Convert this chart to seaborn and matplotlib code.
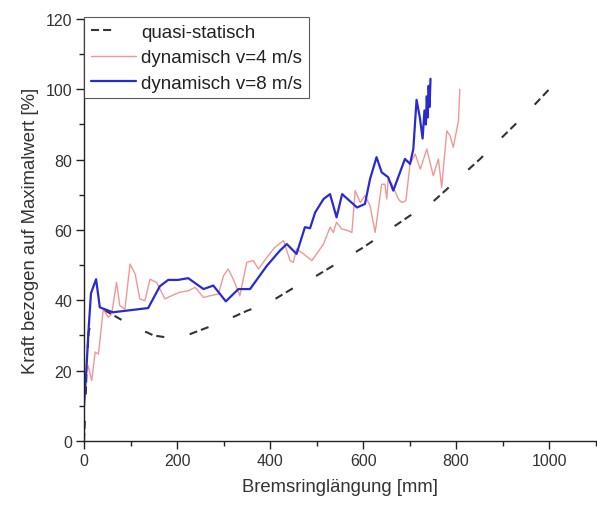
import numpy as np
import pandas as pd
import seaborn as sns
import matplotlib.pyplot as plt
from matplotlib.ticker import MultipleLocator

## Data (x in mm, y in % of max)
quasi_x = [0, 3, 6, 10, 20, 40, 60, 80, 100, 150, 200, 250, 300, 350, 400,
           450, 500, 550, 600, 650, 700, 750, 800, 850, 900, 950, 1000]
quasi_y = [0, 10, 22, 31, 36, 37.5, 36, 34.5, 33, 30, 29, 31.5, 34, 37, 39.5,
           43.5, 47, 51, 55, 59.5, 64, 68, 74, 80, 86.5, 93, 100]

v4_x = [0, 2, 9, 16.5, 24, 31, 41.5, 52, 59.5, 70, 77, 88, 99, 110, 120, 131,
        142, 156, 174, 188, 206, 224, 239, 257, 271, 289, 300, 310, 321, 335,
        350, 364, 375, 396, 410, 429, 443, 450, 457, 472, 490, 515, 529, 536,
        543, 554, 568, 576, 583, 594, 604, 615, 626, 640, 647, 651, 654, 662,
        676, 683, 692, 701, 712, 723, 737, 751, 762, 769, 780, 787, 794, 805,
        808]
v4_y = [12, 17.6, 21.4, 17.2, 25.3, 24.7, 37.5, 35.2, 36.1, 45.1, 38.5, 37.5,
        50.3, 47.5, 40.4, 39.9, 46, 45.1, 40.4, 41.3, 42.3, 42.7, 43.7, 40.8,
        41.3, 41.8, 47, 48.9, 46, 41.3, 50.8, 51.3, 48.9, 52.7, 55, 57, 51.3,
        50.8, 54.6, 53.2, 51.3, 56, 60.8, 59.3, 62.2, 60.3, 59.8, 59.3, 71.2,
        67.8, 69.8, 66.9, 59.3, 73, 73, 68.8, 74.5, 73, 68.8, 67.8, 68.3, 78.8,
        81.6, 77.3, 83, 75.4, 80.2, 72.1, 88.2, 86.8, 83.5, 91, 100]

v8_x = [0, 5, 10, 15, 26, 34, 62, 138, 163, 181, 202, 224, 257, 278, 305, 332,
        357, 393, 421, 436, 457, 475, 486, 497, 515, 529, 543, 555, 587, 604,
        615, 629, 640, 654, 665, 690, 701, 708, 715, 722, 728, 732, 735, 737,
        739, 741, 743, 745]
v8_y = [10, 20, 32, 42, 46, 38, 36.6, 37.8, 44, 45.8, 45.8, 46.3, 43.2, 44.2,
        39.7, 43.2, 43.2, 49.8, 54.1, 56, 53.2, 60.8, 60.5, 65, 68.8, 70.2,
        63.6, 70.2, 66.4, 67.4, 74.5, 80.7, 76.4, 75, 71.2, 80.2, 78.8, 83, 97,
        92, 86, 94, 90, 98, 92, 101, 95, 103]

labels = ["quasi-statisch", "dynamisch v=4 m/s", "dynamisch v=8 m/s"]

sns.set_style("ticks")
plt.rcParams["font.family"] = ["Liberation Sans", "DejaVu Sans"]
plt.rcParams["lines.scale_dashes"] = False

df_q = pd.DataFrame({"x": quasi_x, "y": quasi_y})
df_4 = pd.DataFrame({"x": v4_x, "y": v4_y})
df_8 = pd.DataFrame({"x": v8_x, "y": v8_y})

fig = plt.figure(figsize=(5.97, 5.06), dpi=100)
ax = fig.add_axes([0.1407, 0.1265, 0.857, 0.834])

sns.lineplot(data=df_q, x="x", y="y", ax=ax, sort=False, estimator=None,
             color="#333333", lw=1.5, linestyle=(0, (5.8, 2.9, 5.8, 19)),
             label=labels[0])
sns.lineplot(data=df_4, x="x", y="y", ax=ax, sort=False, estimator=None,
             color="#f08484", lw=1.0, alpha=0.85, label=labels[1])
sns.lineplot(data=df_8, x="x", y="y", ax=ax, sort=False, estimator=None,
             color="#2a2ad2", lw=1.6, label=labels[2])

ax.set_xlim(0, 1100)
ax.set_ylim(0, 120)
ax.xaxis.set_major_locator(MultipleLocator(200))
ax.xaxis.set_minor_locator(MultipleLocator(100))
ax.yaxis.set_major_locator(MultipleLocator(20))
ax.yaxis.set_minor_locator(MultipleLocator(10))
ax.tick_params(which="major", direction="out", length=5.5, width=1.0,
               color="#222222", labelsize=11.5, pad=3, labelcolor="#333333")
ax.tick_params(which="minor", direction="out", length=3.5, width=1.0,
               color="#222222")
sns.despine(ax=ax)
for s in ["left", "bottom"]:
    ax.spines[s].set_color("#222222")
    ax.spines[s].set_linewidth(1.0)

ax.set_xlabel("Bremsringlängung [mm]", fontsize=13.3, color="#333333", labelpad=7)
ax.set_ylabel("Kraft bezogen auf Maximalwert [%]", fontsize=13.3,
              color="#333333", labelpad=5)

leg = ax.legend(loc="upper left", bbox_to_anchor=(0.0, 1.005), borderaxespad=0,
                fontsize=13.5, handlelength=2.4, handletextpad=0.3,
                borderpad=0.35, labelspacing=0.45, frameon=True, fancybox=False)
leg.get_frame().set_edgecolor("#333333")
leg.get_frame().set_linewidth(0.8)
for t in leg.get_texts():
    t.set_color("#222222")

fig.savefig("out.png", dpi=100)
